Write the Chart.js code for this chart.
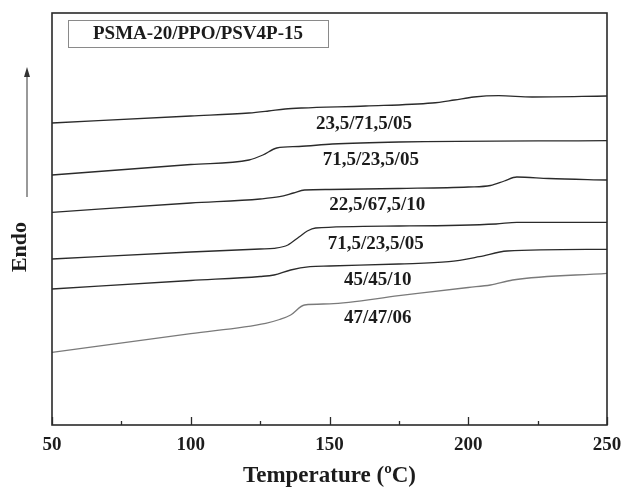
<!DOCTYPE html>
<html>
<head>
<meta charset="utf-8">
<title>DSC</title>
<script src="https://cdn.jsdelivr.net/npm/chart.js@4/dist/chart.umd.min.js"></script>
<style>
  html, body { margin: 0; padding: 0; background: #fff; }
  canvas { display: block; }
</style>
</head>
<body>
<canvas id="dscChart" width="622" height="489"></canvas>
<script>
// DSC curves, temperature (°C) and endo signal (arbitrary offset units)
const t1 = [50, 100, 121, 128, 134, 140, 163, 187, 195, 202, 211, 223, 250];
const v1 = [302, 309, 312, 314, 316, 317, 319, 322, 325, 328, 329.3, 328, 329];

const t2 = [50, 100, 121, 126, 131, 139, 151, 175, 250];
const v2 = [250, 260.5, 265, 270, 277, 278.5, 281, 283, 284.3];

const t3 = [50, 100, 125, 132, 137, 141, 150, 175, 200, 208, 213, 217.5, 229, 250];
const v3 = [212.7, 222, 226, 228.3, 232, 235, 235.5, 236.5, 238, 239.5, 244, 248, 246.5, 245];

const t4 = [50, 100, 125, 130, 135, 139, 142, 145, 175, 210, 217.5, 250];
const v4 = [166, 173, 176, 176.7, 180, 188, 194, 197, 199, 201, 202.7, 202.7];

const t5 = [50, 100, 125, 130, 136, 143, 150, 175, 193, 204, 214, 250];
const v5 = [136, 144.5, 148.5, 150, 155, 158.3, 159, 161, 163.3, 168.3, 174, 175.7];

const t6 = [50, 100, 127, 132, 136, 141, 150, 175, 200, 208, 216, 250];
const v6 = [72.7, 91.4, 101.7, 105.5, 110, 120, 121.1, 129.3, 137.5, 140, 145, 151.7];

// curve names and where they are written
const curveNames = ["23,5/71,5/05", "71,5/23,5/05", "22,5/67,5/10", "71,5/23,5/05", "45/45/10", "47/47/06"];
const nameT = [162.4, 164.9, 167.2, 166.7, 167.4, 167.4];
const nameV = [301, 265, 220, 181, 145, 107];

const seriesTitle = "PSMA-20/PPO/PSV4P-15";
const xMajor = [50, 100, 150, 200, 250];
const xMinor = [75, 125, 175, 225];

const SERIF = '"Liberation Serif", "Times New Roman", serif';
const INK = "#1c1c1c";

function toPoints(t, v) {
  return t.map((x, i) => ({ x: x, y: v[i] }));
}

function curve(t, v, color) {
  return {
    data: toPoints(t, v),
    borderColor: color,
    borderWidth: 1.3,
    pointRadius: 0,
    cubicInterpolationMode: "monotone",
    fill: false,
  };
}

const decorPlugin = {
  id: "decor",
  afterDatasetsDraw(chart) {
    const ctx = chart.ctx;
    const a = chart.chartArea;
    const xs = chart.scales.x;
    const ys = chart.scales.y;
    ctx.save();

    // frame
    ctx.strokeStyle = "#2a2a2a";
    ctx.lineWidth = 1.6;
    ctx.strokeRect(a.left, a.top, a.right - a.left, a.bottom - a.top);

    // inward ticks on the bottom axis
    ctx.lineWidth = 1.3;
    ctx.beginPath();
    xMajor.forEach((v) => {
      const px = Math.round(xs.getPixelForValue(v)) + 0.5;
      ctx.moveTo(px, a.bottom);
      ctx.lineTo(px, a.bottom - 8);
    });
    xMinor.forEach((v) => {
      const px = Math.round(xs.getPixelForValue(v)) + 0.5;
      ctx.moveTo(px, a.bottom);
      ctx.lineTo(px, a.bottom - 4);
    });
    ctx.stroke();

    // sample box
    ctx.strokeStyle = "#8a8a8a";
    ctx.lineWidth = 1;
    ctx.strokeRect(68.5, 20.5, 260, 27);
    ctx.fillStyle = INK;
    ctx.font = "bold 19px " + SERIF;
    ctx.textAlign = "center";
    ctx.textBaseline = "middle";
    ctx.fillText(seriesTitle, 198, 34);

    // curve names
    ctx.font = "bold 19px " + SERIF;
    curveNames.forEach((name, i) => {
      ctx.fillText(name, xs.getPixelForValue(nameT[i]), ys.getPixelForValue(nameV[i]));
    });

    // Endo label with arrow
    ctx.save();
    ctx.translate(20, 247);
    ctx.rotate(-Math.PI / 2);
    ctx.font = "bold 22px " + SERIF;
    ctx.fillText("Endo", 0, 0);
    ctx.restore();

    ctx.strokeStyle = "#555";
    ctx.fillStyle = "#333";
    ctx.lineWidth = 1.2;
    ctx.beginPath();
    ctx.moveTo(27, 197);
    ctx.lineTo(27, 74);
    ctx.stroke();
    ctx.beginPath();
    ctx.moveTo(27, 67);
    ctx.lineTo(24, 77);
    ctx.lineTo(30, 77);
    ctx.closePath();
    ctx.fill();

    ctx.restore();
  },
};

window.onload = function () {
  const ctx = document.getElementById("dscChart").getContext("2d");
  new Chart(ctx, {
    type: "line",
    data: {
      datasets: [
        curve(t1, v1, "#2b2b2b"),
        curve(t2, v2, "#2b2b2b"),
        curve(t3, v3, "#2b2b2b"),
        curve(t4, v4, "#2b2b2b"),
        curve(t5, v5, "#2b2b2b"),
        curve(t6, v6, "#7a7a7a"),
      ],
    },
    options: {
      responsive: false,
      animation: false,
      layout: { padding: { top: 13, right: 15, left: 52, bottom: 0 } },
      plugins: {
        legend: { display: false },
        tooltip: { enabled: false },
      },
      scales: {
        x: {
          type: "linear",
          min: 50,
          max: 250,
          grid: { display: false },
          border: { display: false },
          ticks: {
            stepSize: 50,
            padding: 1,
            color: INK,
            font: { family: SERIF, size: 19, weight: "bold" },
          },
          title: {
            display: true,
            text: "Temperature (ºC)",
            color: INK,
            padding: { top: 0, bottom: 0 },
            font: { family: SERIF, size: 23, weight: "bold", lineHeight: 1.1 },
          },
          afterFit(scale) {
            scale.height = 64;
            // keep the end labels from pushing the plot area inward
            scale.paddingLeft = 0;
            scale.paddingRight = 0;
          },
        },
        y: {
          display: false,
          min: 0,
          max: 412,
        },
      },
    },
    plugins: [decorPlugin],
  });
};
</script>
</body>
</html>
